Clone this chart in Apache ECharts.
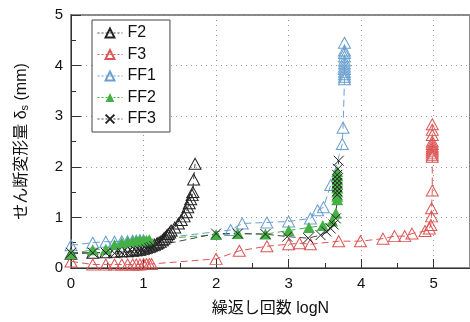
<!DOCTYPE html>
<html><head><meta charset="utf-8">
<script src="https://cdn.jsdelivr.net/npm/echarts@6/dist/echarts.min.js"></script>
<style>html,body{margin:0;padding:0;background:#fff}#c{width:470px;height:322px}</style>
</head><body><div id="c"></div>
<script>
const seriesNames = ['F2', 'F3', 'FF1', 'FF2', 'FF3'];
const xTicks = [0, 1, 2, 3, 4, 5];
const yTicks = [0, 1, 2, 3, 4, 5];
const F2 = [[0,0.28],[0.30,0.30],[0.48,0.31],[0.60,0.32],[0.70,0.33],[0.78,0.33],[0.85,0.34],[0.90,0.35],[0.95,0.36],[1.00,0.38],[1.04,0.40],[1.08,0.42],[1.11,0.44],[1.15,0.46],[1.18,0.48],[1.20,0.50],[1.23,0.52],[1.26,0.55],[1.28,0.58],[1.30,0.61],[1.32,0.64],[1.34,0.67],[1.36,0.70],[1.38,0.74],[1.43,0.80],[1.48,0.88],[1.52,0.95],[1.56,1.02],[1.59,1.10],[1.61,1.20],[1.63,1.28],[1.65,1.36],[1.67,1.44],[1.68,1.50],[1.69,1.75],[1.71,2.06]];
const F3 = [[0,0.13],[0.30,0.07],[0.48,0.07],[0.60,0.07],[0.70,0.07],[0.78,0.07],[0.85,0.07],[0.90,0.07],[0.95,0.07],[1.00,0.08],[1.04,0.08],[1.08,0.08],[1.11,0.08],[2.00,0.18],[2.32,0.34],[2.70,0.43],[3.00,0.47],[3.15,0.49],[3.30,0.47],[3.69,0.53],[3.99,0.53],[4.30,0.58],[4.46,0.63],[4.60,0.63],[4.70,0.68],[4.88,0.73],[4.94,0.78],[4.96,0.85],[4.97,1.02],[4.97,1.18],[4.98,1.53],[4.98,2.20],[4.98,2.24],[4.98,2.28],[4.98,2.32],[4.98,2.36],[4.98,2.40],[4.98,2.45],[4.98,2.50],[4.98,2.63],[4.98,2.73],[4.98,2.84]];
const FF1 = [[0,0.45],[0.30,0.50],[0.48,0.52],[0.60,0.52],[0.70,0.53],[0.78,0.53],[0.85,0.54],[0.90,0.54],[0.95,0.55],[1.00,0.55],[2.20,0.75],[2.36,0.88],[2.70,0.90],[3.00,0.92],[3.30,0.98],[3.40,1.14],[3.48,1.20],[3.58,1.64],[3.74,2.45],[3.75,2.77],[3.77,3.73],[3.77,3.78],[3.77,3.83],[3.77,3.88],[3.77,3.93],[3.77,3.98],[3.77,4.04],[3.77,4.10],[3.77,4.18],[3.77,4.25],[3.77,4.30],[3.77,4.45]];
const FF2 = [[0,0.28],[0.30,0.36],[0.48,0.37],[0.60,0.46],[0.70,0.50],[0.78,0.52],[0.85,0.53],[0.90,0.54],[0.95,0.55],[1.00,0.55],[1.04,0.55],[1.08,0.56],[2.00,0.66],[2.30,0.68],[2.68,0.67],[3.00,0.74],[3.28,0.80],[3.47,0.84],[3.60,0.93],[3.65,1.08],[3.67,1.35],[3.67,1.42],[3.67,1.50],[3.67,1.58],[3.67,1.66],[3.67,1.74],[3.67,1.82],[3.67,1.90]];
const FF3 = [[0,0.30],[0.30,0.30],[0.48,0.30],[0.60,0.29],[0.70,0.30],[0.78,0.31],[0.85,0.32],[0.90,0.33],[0.95,0.34],[1.00,0.35],[1.04,0.37],[1.08,0.39],[1.11,0.41],[1.15,0.43],[2.00,0.68],[2.30,0.68],[2.68,0.67],[2.98,0.62],[3.27,0.59],[3.44,0.65],[3.52,0.72],[3.58,0.78],[3.62,0.86],[3.65,0.98],[3.67,1.45],[3.67,1.52],[3.67,1.60],[3.67,1.68],[3.67,1.76],[3.67,1.84],[3.68,1.96],[3.69,2.12]];

const FONT = "'Liberation Sans', 'Noto Sans CJK JP', sans-serif";
const hollowTri = (c) => ({symbol: 'triangle', symbolSize: [12, 11], itemStyle: {color: 'rgba(255,255,255,0)', borderColor: c, borderWidth: 1}});
function mk(name, data, lineColor, sym) {
  return Object.assign({
    name, type: 'line', data, showSymbol: true,
    lineStyle: {color: lineColor, width: 1, type: [7, 4]},
    emphasis: {disabled: true}, z: 3
  }, sym);
}
const chart = echarts.init(document.getElementById('c'), null, {renderer: 'canvas'});
chart.setOption({
  animation: false,
  textStyle: {fontFamily: FONT},
  grid: {left: 71, right: -7, top: 15, bottom: 52, show: true, borderColor: '#888', borderWidth: 2, backgroundColor: 'transparent'},
  legend: {
    orient: 'vertical', left: 92, top: 20, padding: [5, 14, 5, 5], itemGap: 5.5,
    itemWidth: 25, itemHeight: 11,
    backgroundColor: '#fff', borderColor: '#444', borderWidth: 1,
    lineStyle: {type: [2, 2], width: 1},
    textStyle: {fontSize: 16, color: '#111', fontFamily: FONT, lineHeight: 16},
    data: seriesNames
  },
  xAxis: {
    type: 'value', min: 0, max: 5.5, interval: 1,
    name: '繰返し回数 logN', nameLocation: 'middle', nameGap: 33,
    nameTextStyle: {fontSize: 16, color: '#111', fontFamily: FONT},
    axisLine: {onZero: false, lineStyle: {color: '#333', width: 1}},
    axisTick: {inside: true, length: 9, lineStyle: {color: '#333'}},
    minorTick: {show: true, splitNumber: 2, length: 5, lineStyle: {color: '#333'}},
    axisLabel: {fontSize: 15, color: '#111', margin: 8, showMaxLabel: false,
      formatter: v => xTicks.indexOf(v) >= 0 ? String(v) : ''},
    splitLine: {show: true, lineStyle: {type: [1, 4], color: '#999'}}
  },
  yAxis: {
    type: 'value', min: 0, max: 5, interval: 1,
    name: 'せん断変形量 δ{sub|s} (mm)', nameLocation: 'middle', nameGap: 41,
    nameTextStyle: {fontSize: 16, color: '#111', fontFamily: FONT,
      rich: {sub: {fontSize: 11, verticalAlign: 'bottom', padding: [6, 0, 0, 0], fontFamily: FONT, color: '#111'}}},
    axisLine: {show: true, onZero: false, lineStyle: {color: '#333', width: 1}},
    axisTick: {show: true, inside: true, length: 10, lineStyle: {color: '#333'}},
    minorTick: {show: true, splitNumber: 2, length: 5, lineStyle: {color: '#333'}},
    axisLabel: {fontSize: 15, color: '#111', margin: 8,
      formatter: v => yTicks.indexOf(v) >= 0 ? String(v) : ''},
    splitLine: {show: true, lineStyle: {type: [1, 4], color: '#999'}}
  },
  series: [
    mk('F2', F2, '#444', hollowTri('#222')),
    mk('F3', F3, '#dd5555', hollowTri('#dd5555')),
    mk('FF1', FF1, '#6a9fcf', hollowTri('#6a9fcf')),
    mk('FF2', FF2, '#45b045', {symbol: 'triangle', symbolSize: [12, 11], itemStyle: {color: '#45b045', borderColor: '#45b045', borderWidth: 0}}),
    mk('FF3', FF3, '#444', {symbol: 'path://M0,0L10,10M10,0L0,10', symbolSize: 10, itemStyle: {color: 'none', borderColor: '#222', borderWidth: 1}})
  ]
});
</script></body></html>
